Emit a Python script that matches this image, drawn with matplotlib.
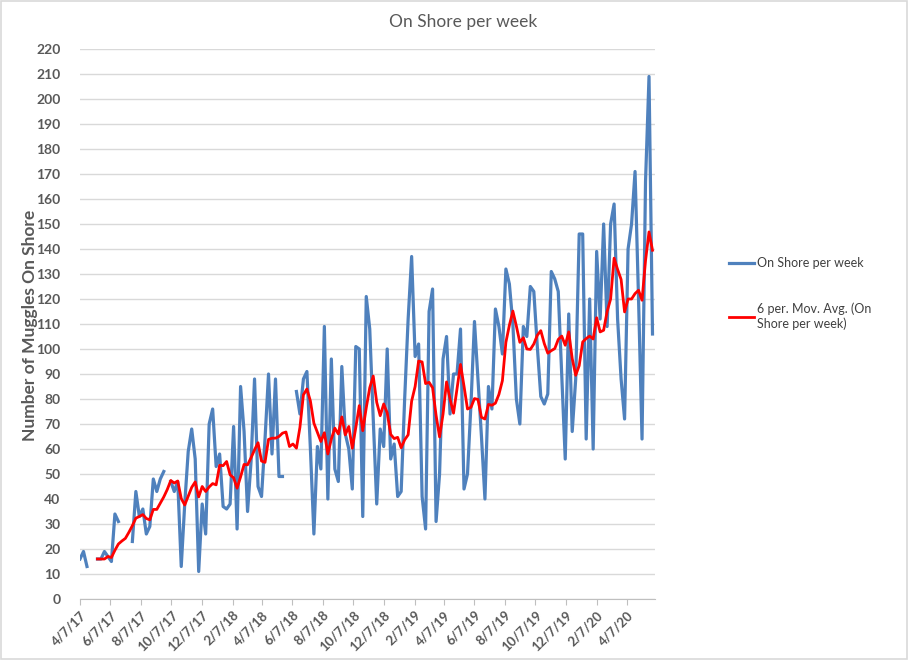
import numpy as np
import pandas as pd
import matplotlib
matplotlib.use("Agg")
import matplotlib.pyplot as plt
from matplotlib.patches import Rectangle
from matplotlib.lines import Line2D

# weekly counts, starting 4/7/17 (nan = no data that week)
nan = np.nan
start_date = "2017-04-07"
on_shore = [
    16, 19, 13, nan, nan, 16, 16, 19, 17, 15,
    34, 31, nan, nan, nan, 23, 43, 33, 36, 26,
    29, 48, 43, 48, 51, nan, 47, 43, 47, 13,
    38, 59, 68, 56, 11, 38, 26, 70, 76, 53,
    58, 37, 36, 38, 69, 28, 85, 67, 35, 55,
    88, 45, 41, 64, 90, 58, 88, 49, 49, nan,
    nan, nan, 83, 74, 88, 91, 60, 26, 61, 52,
    109, 40, 96, 52, 47, 93, 66, 60, 44, 101,
    100, 33, 121, 108, 72, 38, 68, 61, 100, 56,
    62, 41, 43, 80, 112, 137, 97, 102, 41, 28,
    115, 124, 31, 50, 96, 105, 74, 90, 90, 108,
    44, 50, 78, 111, 88, 65, 40, 85, 76, 116,
    109, 98, 132, 126, 110, 80, 70, 109, 105, 125,
    123, 101, 81, 78, 82, 131, 128, 123, 89, 56,
    114, 67, 88, 146, 146, 64, 120, 60, 139, 112,
    150, 109, 150, 158, 112, 88, 72, 140, 150, 171,
    120, 64, 167, 209, 106,
]
tick_start = "2017-04-07"
tick_end = "2020-04-07"
series_name = "On Shore per week"
ma_name = "6 per. Mov. Avg. (On\nShore per week)"
ma_window = 6

dates = pd.date_range(start_date, periods=len(on_shore), freq="7D")
s = pd.Series(on_shore, index=dates, dtype=float)
# Excel style trendline: average of the non-blank cells in the window
ma = s.rolling(ma_window, min_periods=1).mean()
ma.iloc[:ma_window - 1] = nan

plt.rcParams['font.family'] = ['Lato', 'DejaVu Sans']
grey = "#595959"

fig = plt.figure(figsize=(9.09, 6.6), dpi=100)
ax = fig.add_axes([80 / 909, 1 - 599 / 660, 575 / 909, 550 / 660])

ax.plot(s.index, s.values, color="#4F81BD", lw=2.3, solid_joinstyle="round")
ax.plot(ma.index, ma.values, color="#FF0000", lw=2.0, solid_joinstyle="round")

ax.set_ylim(0, 220)
ax.set_yticks(np.arange(0, 221, 10))
ax.set_xlim(pd.Timestamp(tick_start), pd.Timestamp("2020-06-03"))
ticks = pd.date_range(tick_start, tick_end, freq=pd.DateOffset(months=2))
ax.set_xticks(ticks)
ax.set_xticklabels(["%d/%d/%d" % (d.month, d.day, d.year % 100) for d in ticks],
                   rotation=45, ha="right", rotation_mode="anchor",
                   fontsize=9.5, color=grey, fontweight="bold")
ax.tick_params(axis="y", length=0, labelsize=10, labelcolor=grey, pad=14)
ax.tick_params(axis="x", length=4, color="#bfbfbf", pad=3)
for lab in ax.get_yticklabels():
    lab.set_fontweight("bold")

ax.grid(axis="y", color="#d9d9d9", lw=1)
ax.set_axisbelow(True)
for side in ["top", "right", "left"]:
    ax.spines[side].set_visible(False)
ax.spines["bottom"].set_color("#bfbfbf")

fig.text(30 / 909, 1 - 325 / 660, "Number of Muggles On Shore", rotation=90,
         ha="center", va="center", fontsize=12.5, fontweight="bold", color=grey)
fig.text(0.5095, 1 - 22 / 660, "On Shore per week", ha="center", va="center",
         fontsize=12.5, color=grey)

handles = [Line2D([], [], color="#4F81BD", lw=2.3),
           Line2D([], [], color="#FF0000", lw=2.0)]
fig.legend(handles, [series_name, ma_name], loc="upper left",
           bbox_to_anchor=(729 / 909, 1 - 257 / 660), frameon=False,
           borderpad=0, borderaxespad=0,
           fontsize=9, handlelength=2.0, labelspacing=2.7, handletextpad=0.25,
           labelcolor="#404040")

fig.patches.append(Rectangle((0.001, 0.001), 0.997, 0.997, transform=fig.transFigure,
                             fill=False, edgecolor="#d9d9d9", lw=1.2))

fig.savefig("out.png", dpi=100)
